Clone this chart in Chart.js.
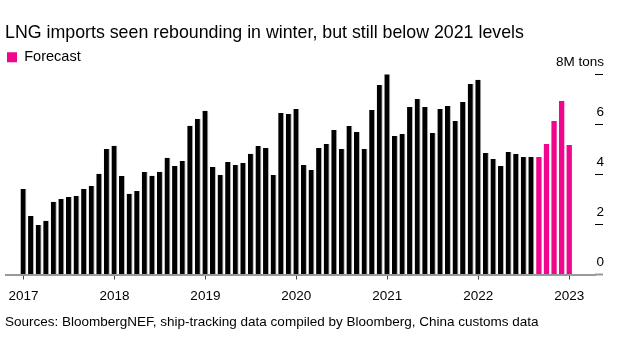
<!DOCTYPE html>
<html>
<head>
<meta charset="utf-8">
<script src="https://cdn.jsdelivr.net/npm/chart.js@4.4.1/dist/chart.umd.min.js"></script>
<style>
  html, body { margin: 0; padding: 0; background: #fff; }
  #wrap { width: 638px; height: 341px; }
</style>
</head>
<body>
<div id="wrap"><canvas id="chart-area"></canvas></div>
<script>
// China LNG imports, million tons per month, Jan 2017 - Aug 2022
var actual = [
  3.42, 2.34, 1.98, 2.15, 2.91, 3.02, 3.10, 3.14, 3.42, 3.54, 4.03, 5.02,
  5.15, 3.94, 3.23, 3.34, 4.10, 3.95, 4.11, 4.67, 4.34, 4.54, 5.95, 6.22,
  6.55, 4.30, 3.98, 4.50, 4.38, 4.46, 4.83, 5.14, 5.06, 3.98, 6.46, 6.42,
  6.62, 4.38, 4.18, 5.06, 5.22, 5.78, 5.02, 5.94, 5.70, 5.02, 6.58, 7.58,
  8.46, 5.54, 5.62, 6.70, 7.02, 6.70, 5.66, 6.62, 6.74, 6.14, 6.90, 7.62,
  7.79, 4.86, 4.62, 4.34, 4.90, 4.82, 4.70, 4.70
];
// forecast, Sep 2022 - Jan 2023
var forecast = [4.70, 5.22, 6.14, 6.94, 5.18];

var yearLabels = ['2017', '2018', '2019', '2020', '2021', '2022', '2023'];
var yTicks = [0, 2, 4, 6, 8];

var black = '#000000';
var pink = '#ef068c';

Chart.defaults.font.family = '"Liberation Sans", Arial, sans-serif';
Chart.defaults.color = '#000';

var config = {
  type: 'bar',
  data: {
    datasets: [{
      label: 'Actual',
      data: actual.map(function (v, i) { return {x: i, y: v}; }),
      backgroundColor: black,
      borderColor: '#b4b4b4',
      borderWidth: {right: 1, left: 0, top: 0, bottom: 0},
      borderSkipped: false,
      grouped: false,
      categoryPercentage: 1,
      barPercentage: 0.79
    }, {
      label: 'Forecast',
      data: forecast.map(function (v, i) { return {x: actual.length + i, y: v}; }),
      backgroundColor: pink,
      borderWidth: 0,
      grouped: false,
      categoryPercentage: 1,
      barPercentage: 0.7
    }]
  },
  options: {
    responsive: true,
    maintainAspectRatio: false,
    animation: false,
    layout: {padding: {left: 5, right: 26, top: 0, bottom: 0}},
    plugins: {
      tooltip: {enabled: false},
      title: {
        display: true,
        text: 'LNG imports seen rebounding in winter, but still below 2021 levels',
        align: 'start',
        color: '#000',
        font: {size: 17.8, weight: 'normal'},
        padding: {top: 3, bottom: 3.8}
      },
      legend: {
        display: true,
        position: 'top',
        align: 'start',
        labels: {
          boxWidth: 10,
          boxHeight: 10,
          padding: 2,
          color: '#000',
          font: {size: 14.5},
          filter: function (item) { return item.text === 'Forecast'; }
        }
      },
      subtitle: {
        display: true,
        position: 'bottom',
        align: 'start',
        text: 'Sources: BloombergNEF, ship-tracking data compiled by Bloomberg, China customs data',
        color: '#000',
        font: {size: 13.5, weight: 'normal'},
        padding: {top: 10.9, bottom: 10.6}
      }
    },
    scales: {
      x: {
        type: 'linear',
        min: -2.3,
        max: 75.4,
        offset: false,
        afterBuildTicks: function (scale) {
          scale.ticks = yearLabels.map(function (y, i) { return {value: i * 12}; });
        },
        afterFit: function (scale) {
          scale.height = 28.8;
        },
        ticks: {
          autoSkip: false,
          maxRotation: 0,
          padding: 8.3,
          color: '#000',
          font: {size: 13.5},
          callback: function (v) { return yearLabels[v / 12]; }
        },
        grid: {
          offset: false,
          drawOnChartArea: false,
          drawTicks: true,
          tickLength: 5,
          color: '#444'
        },
        border: {display: true, color: '#999', width: 2}
      },
      y: {
        position: 'right',
        min: 0,
        max: 8,
        afterBuildTicks: function (scale) {
          scale.ticks = yTicks.map(function (v) { return {value: v}; });
        },
        afterFit: function (scale) {
          scale.paddingTop = 74.5;
          scale.width = 17;
        },
        ticks: {
          mirror: true,
          padding: 9,
          labelOffset: -12.5,
          color: '#000',
          font: {size: 13.5},
          callback: function (v) { return v === 8 ? '8M tons' : String(v); }
        },
        grid: {
          drawOnChartArea: false,
          drawTicks: true,
          tickLength: 8,
          tickColor: function (ctx) { return ctx.tick && ctx.tick.value === 0 ? '#999' : '#000'; },
          tickWidth: function (ctx) { return ctx.tick && ctx.tick.value === 0 ? 2 : 1; }
        },
        border: {display: false}
      }
    }
  }
};

var chart = new Chart(document.getElementById('chart-area').getContext('2d'), config);
</script>
</body>
</html>
